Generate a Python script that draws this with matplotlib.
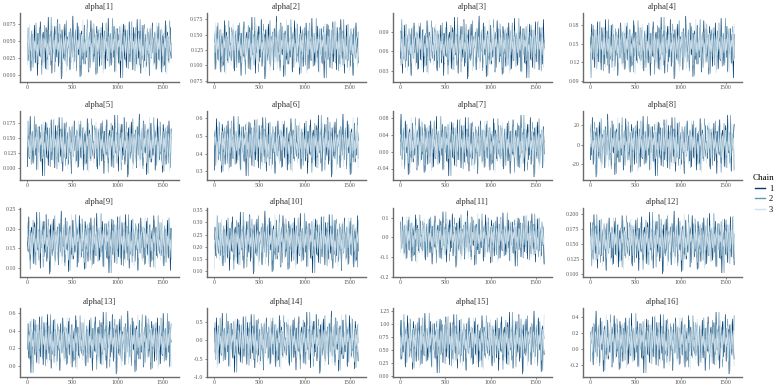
import numpy as np
import matplotlib
matplotlib.use("Agg")
import matplotlib.pyplot as plt
from matplotlib.lines import Line2D

plt.rcParams["font.family"] = ["Liberation Serif", "DejaVu Serif"]

# panel titles
params = [f"alpha[{i}]" for i in range(1, 17)]

trace_lo = [-0.005, 0.078, 0.018, 0.093, 0.086, 0.27, -0.06, -33,
            0.085, 0.09, -0.15, 0.100, -0.09, -0.90, 0.05, -0.31]
trace_hi = [0.086, 0.180, 0.114, 0.195, 0.190, 0.62, 0.09, 31,
            0.245, 0.345, 0.135, 0.205, 0.62, 0.80, 1.25, 0.48]

# y tick labels per panel
yticks = [
    [0.000, 0.025, 0.050, 0.075],
    [0.075, 0.100, 0.125, 0.150, 0.175],
    [0.03, 0.06, 0.09],
    [0.09, 0.12, 0.15, 0.18],
    [0.100, 0.125, 0.150, 0.175],
    [0.3, 0.4, 0.5, 0.6],
    [-0.04, 0.00, 0.04, 0.08],
    [-20, 0, 20],
    [0.10, 0.15, 0.20, 0.25],
    [0.10, 0.15, 0.20, 0.25, 0.30, 0.35],
    [-0.2, -0.1, 0.0, 0.1],
    [0.100, 0.125, 0.150, 0.175, 0.200],
    [0.0, 0.2, 0.4, 0.6],
    [-1.0, -0.5, 0.0, 0.5],
    [0.00, 0.25, 0.50, 0.75, 1.00, 1.25],
    [-0.2, 0.0, 0.2, 0.4],
]
ytick_fmt = ["{:.3f}", "{:.3f}", "{:.2f}", "{:.2f}", "{:.3f}", "{:.1f}", "{:.2f}", "{:.0f}",
             "{:.2f}", "{:.2f}", "{:.1f}", "{:.3f}", "{:.1f}", "{:.1f}", "{:.2f}", "{:.1f}"]

xticks = [0, 500, 1000, 1500]
n_iter = 1600

# thinned draws (standardised, tenths) for the three chains
chain1 = [3, -12, 8, 15, -4, -21, 6, 11, -9, 2, 19, -14, -3, 7, -25, 12, 4, -8, 22, -1,
          -16, 9, 13, -6, 0, -19, 17, 5, -11, 26, -7, 3, -2, 14, -23, 10, -5, 8, 18, -13,
          1, -9, 24, -17, 6, -3, 11, -28, 15, 2, -10, 7, 20, -6, -15, 4, 9, -1, 13, -20,
          16, -8, 3, 27, -12, 5, -4, 10, -18, 21, 0, -7, 12, -26, 8, 14, -3, -11, 6, 19,
          -15, 2, -9, 17, 4, -22, 11, -5, 23, -2, 7, -13, 15, -8, 1, -24, 18, 9, -6, 3,
          -17, 12, 6, -10, 21, -4, -1, 14, -19, 8, 2, -12, 25, -7, 10, -3, -16, 5, 13, -9,
          18, -21, 4, 0, -6, 16, -14, 9, 3, -27, 11, -2, 7, 20, -11, -5, 15, -18, 1, 8,
          -8, 22, -13, 6, -4, 12, -20, 17, 2, -7, 10, -15, 24, -1, -10, 5, 14, -23, 9, -3,
          19, -6, -12, 11, 3, -17, 7, 13, -2, -25, 16, 0, -9, 21, -5, 8, -14, 4, 12, -19,
          6, 18, -11, 1, -7, 15, -22, 10, -3, 9, -16, 23, -8, 2, 13, -12, 5, -4, 17, -10]
chain2 = [-7, 14, -2, -18, 9, 4, -11, 21, -5, 12, -15, 1, 17, -9, 6, -24, 10, 3, -13, 19,
          -3, 8, -20, 15, -6, 2, 11, -16, 26, -10, 5, -1, 13, -22, 7, 18, -8, -4, 12, -14,
          20, -2, 9, -26, 4, 16, -12, 1, -7, 23, -17, 6, 10, -5, -19, 14, 2, -9, 22, -3,
          -13, 8, 15, -21, 5, -6, 18, 0, -11, 12, -25, 9, 3, -15, 19, -4, 7, -8, 24, -12,
          1, 13, -18, 6, -2, 16, -10, 20, -6, -14, 11, 4, -23, 8, 15, -1, -9, 17, -16, 3,
          10, -20, 7, -4, 21, -11, 2, 14, -8, -17, 12, 5, -13, 25, -3, 9, -22, 6, 16, -7,
          -1, 11, -15, 18, 3, -10, 8, -27, 13, 0, 19, -12, 4, -5, 15, -19, 10, 2, -8, 22,
          -14, 7, -3, 12, -21, 17, 1, -9, 6, 14, -16, 24, -6, 3, -11, 9, -18, 20, -2, 5,
          -13, 16, -7, 11, -24, 8, 4, -10, 18, -1, -15, 13, 2, -20, 10, 7, -5, 21, -12, 6,
          -9, 15, -3, -17, 12, 4, -22, 19, -6, 1, 9, -14, 23, -8, 3, -11, 17, -2, 11, -19]
chain3 = [5, -3, 10, -8, 2, -14, 12, 0, -6, 16, -11, 4, 8, -18, 7, -1, 13, -9, 3, -20,
          15, -5, 9, -12, 1, 19, -7, 6, -15, 11, -2, 22, -10, 4, -4, 14, -17, 8, 0, -13,
          18, -6, 3, 10, -21, 7, -1, 12, -9, 16, -3, -14, 9, 5, -19, 13, 2, -7, 20, -11,
          6, -2, 15, -16, 1, 11, -8, 24, -5, 4, -12, 9, -3, 17, -20, 7, 0, 13, -10, 3,
          -15, 21, -6, 8, 2, -18, 12, -4, 6, -9, 16, -1, -13, 10, 4, -23, 14, -7, 19, -2,
          5, -11, 9, -17, 12, 1, -5, 18, -14, 7, -3, 11, 3, -22, 15, -8, 6, 0, 13, -12,
          20, -4, 2, -16, 10, 8, -9, 14, -1, -19, 17, -6, 4, 11, -13, 23, -2, 5, -10, 9,
          -7, 15, -18, 3, 12, -4, 7, -15, 19, -8, 1, -11, 16, 6, -21, 10, -3, 13, -6, 2,
          -14, 18, -9, 5, 9, -17, 0, 14, -5, 21, -12, 7, -2, 11, -19, 4, 16, -8, 3, -13,
          12, -1, 8, -24, 10, 6, -10, 17, -4, 2, -16, 13, -7, 20, -3, 9, -12, 5, 15, -9]

chain_colors = ["#03396c", "#6497b1", "#d1e1ec"]

n = min(len(chain1), len(chain2), len(chain3))
x = np.arange(n) * (n_iter // n) + 1
chains = [np.array(c[:n], float) for c in (chain1, chain2, chain3)]
zmin = min(c.min() for c in chains)
zmax = max(c.max() for c in chains)

fig = plt.figure(figsize=(7.75, 3.88), dpi=100)

col_left = [20, 207, 393, 583]
row_bottom = [82, 180, 277, 377]
ax_w, ax_h = 159, 69
W, H = 775, 388

spine_col = "#6b6b6b"
for i, name in enumerate(params):
    r, c = divmod(i, 4)
    ax = fig.add_axes([col_left[c] / W, 1 - row_bottom[r] / H, ax_w / W, ax_h / H])
    lo, hi = trace_lo[i], trace_hi[i]
    for k, z in enumerate(chains):
        z = np.roll(z, 23 * i + 5 * k)
        y = lo + (hi - lo) * (z - zmin) / (zmax - zmin)
        ax.plot(x, y, color=chain_colors[k], lw=0.5)
    pad = (hi - lo) * 0.05
    ax.set_ylim(lo - pad, hi + pad)
    ax.set_xlim(-80, 1680)
    ax.set_xticks(xticks)
    ax.set_xticklabels([str(t) for t in xticks])
    ax.set_yticks(yticks[i])
    ax.set_yticklabels([ytick_fmt[i].format(t) for t in yticks[i]])
    for s in ("top", "right"):
        ax.spines[s].set_visible(False)
    for s in ("left", "bottom"):
        ax.spines[s].set_color(spine_col)
        ax.spines[s].set_linewidth(1.0)
    ax.tick_params(labelsize=4.2, colors="#555555", length=1.5, width=0.5, pad=1)
    ax.set_title(name, fontsize=6.2, color="#333333", pad=3)

handles = [Line2D([], [], color=col, lw=1) for col in chain_colors]
fig.legend(handles, ["1", "2", "3"], title="Chain", loc="center left",
           bbox_to_anchor=(0.962, 0.50), frameon=False, fontsize=6,
           title_fontsize=6.5, handlelength=1.2, handletextpad=0.5, labelspacing=0.3)

fig.savefig("out.png", dpi=100)
